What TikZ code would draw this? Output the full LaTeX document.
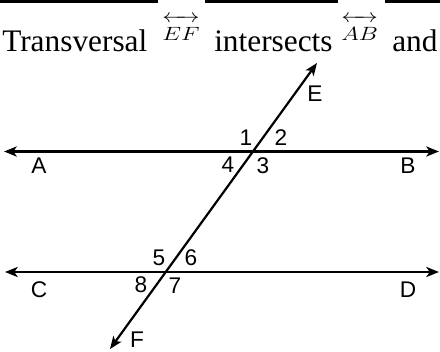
\documentclass[tikz,border=0pt]{standalone}
\usepackage{fontspec}
\usepackage{amsmath}
\usepackage{graphicx}
\setmainfont{Liberation Serif}
\newfontfamily\lblfont{Liberation Sans}
\usetikzlibrary{arrows.meta}

\begin{document}
\begin{tikzpicture}[x=0.75pt,y=-0.75pt,
  ttl/.style={inner sep=0pt,anchor=base west,font=\fontsize{23.5}{27}\selectfont},
  ray/.style={anchor=base west,inner sep=0pt,font=\fontsize{15.5}{18}\selectfont},
  lbl/.style={inner sep=0pt,font=\lblfont\fontsize{17}{20}\selectfont},
  rule/.style={line width=2.25pt},
  line/.style={line width=1.65pt,{Stealth[length=9.5pt,width=7.5pt,inset=2.5pt]}-{Stealth[length=9.5pt,width=7.5pt,inset=2.5pt]}}
]
\useasboundingbox (0,0) rectangle (440,351);

% heading
\draw[rule] (0,1.5) -- (158,1.5) (205,1.5) -- (338,1.5) (385,1.5) -- (440,1.5);
\node[ttl] (t1) at (2,51) {Transversal};
\node[ray] (ef) at (162,40) {\scalebox{1.25}[1]{$\overleftrightarrow{\rule{0pt}{13.5pt}EF}$}};
\node[ttl] (t2) at (214,51) {intersects};
\node[ray] (ab) at (341,40) {\scalebox{1.25}[1]{$\overleftrightarrow{\rule{0pt}{13.5pt}AB}$}};
\node[ttl] (t3) at (392,51) {and};

% the two lines and the transversal
\coordinate (a) at (4,151.5);
\coordinate (b) at (439,151.5);
\coordinate (c) at (5,272);
\coordinate (d) at (439,272);
\coordinate (e) at (317,63);
\coordinate (f) at (110,349);
\draw[line] (a) -- (b);
\draw[line] (c) -- (d);
\draw[line] (f) -- (e);

% letters
\node[lbl] (la) at (39,166) {A};
\node[lbl] (lb) at (408,166) {B};
\node[lbl] (lc) at (39,290) {C};
\node[lbl] (ld) at (408,290) {D};
\node[lbl] (le) at (315,94) {E};
\node[lbl] (lf) at (137,340) {F};

% angles
\node[lbl] (n1) at (246,138) {1};
\node[lbl] (n2) at (281,138) {2};
\node[lbl] (n3) at (263,166) {3};
\node[lbl] (n4) at (228,165) {4};
\node[lbl] (n5) at (159,258) {5};
\node[lbl] (n6) at (191,258) {6};
\node[lbl] (n7) at (175,286) {7};
\node[lbl] (n8) at (141,285) {8};
\end{tikzpicture}
\end{document}
